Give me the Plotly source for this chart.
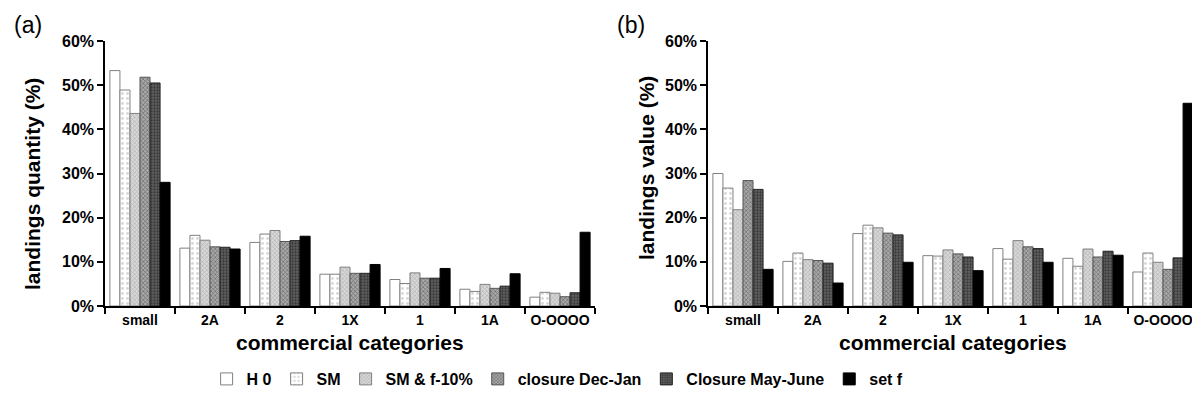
import plotly.graph_objects as go

categories = ["small", "2A", "2", "1X", "1", "1A", "O-OOOO"]
series_names = ["H 0", "SM", "SM & f-10%", "closure Dec-Jan", "Closure May-June", "set f"]

# (a) landings quantity (%)
qty_H0 = [53.3, 13.1, 14.4, 7.2, 6.0, 3.8, 2.0]
qty_SM = [48.9, 16.0, 16.3, 7.2, 5.1, 3.3, 3.1]
qty_SMf = [43.6, 14.9, 17.1, 8.8, 7.5, 4.9, 2.9]
qty_DecJan = [51.8, 13.4, 14.6, 7.4, 6.3, 4.0, 2.1]
qty_MayJune = [50.5, 13.3, 14.8, 7.4, 6.3, 4.5, 3.0]
qty_setf = [28.0, 12.9, 15.8, 9.4, 8.5, 7.3, 16.7]

# (b) landings value (%)
val_H0 = [30.0, 10.1, 16.4, 11.4, 13.0, 10.8, 7.7]
val_SM = [26.7, 12.0, 18.3, 11.3, 10.6, 9.0, 12.0]
val_SMf = [21.8, 10.5, 17.7, 12.7, 14.8, 12.9, 9.9]
val_DecJan = [28.4, 10.3, 16.5, 11.8, 13.4, 11.1, 8.3]
val_MayJune = [26.4, 9.7, 16.1, 11.1, 13.0, 12.4, 10.9]
val_setf = [8.3, 5.2, 9.9, 8.0, 9.9, 11.5, 45.9]

y_ticks = [0, 10, 20, 30, 40, 50, 60]
y_tick_labels = ["0%", "10%", "20%", "30%", "40%", "50%", "60%"]

qty = [qty_H0, qty_SM, qty_SMf, qty_DecJan, qty_MayJune, qty_setf]
val = [val_H0, val_SM, val_SMf, val_DecJan, val_MayJune, val_setf]

styles = [
    dict(color="white", line=dict(color="#808080", width=1)),
    dict(color="white", line=dict(color="#808080", width=1),
         pattern=dict(shape=".", fgcolor="#b0b0b0", bgcolor="white", size=5, solidity=0.25)),
    dict(color="#cfcfcf", line=dict(color="#808080", width=1),
         pattern=dict(shape="x", fgcolor="#8c8c8c", bgcolor="#d8d8d8", size=3, solidity=0.4)),
    dict(color="#8a8a8a", line=dict(color="#555555", width=1),
         pattern=dict(shape="x", fgcolor="#3a3a3a", bgcolor="#a8a8a8", size=3, solidity=0.45)),
    dict(color="#444444", line=dict(color="#222222", width=1),
         pattern=dict(shape=".", fgcolor="#111111", bgcolor="#606060", size=3, solidity=0.45)),
    dict(color="black", line=dict(color="black", width=1)),
]

FONT = "Arial, Liberation Sans, sans-serif"

fig = go.Figure()
for i, name in enumerate(series_names):
    fig.add_trace(go.Bar(x=categories, y=qty[i], name=name, marker=styles[i],
                         xaxis="x", yaxis="y", showlegend=True, legendgroup=name))
    fig.add_trace(go.Bar(x=categories, y=val[i], name=name, marker=styles[i],
                         xaxis="x2", yaxis="y2", showlegend=False, legendgroup=name))

W, H = 1200, 405
def px_x(p):
    return p / W
def px_y(p):
    return 1 - p / H

axis_common = dict(showline=True, linecolor="black", linewidth=1.5, showgrid=False,
                   zeroline=False, ticks="outside", ticklen=6, tickcolor="black",
                   tickwidth=1.5, automargin=False, tickangle=0)
tickfont_y = dict(family=FONT, size=16, color="black", weight="bold")
tickfont_x = dict(family=FONT, size=14, color="black", weight="bold")

fig.update_layout(
    width=W, height=H,
    margin=dict(l=0, r=0, t=0, b=0),
    paper_bgcolor="white", plot_bgcolor="white",
    barmode="group", bargap=0.14, bargroupgap=0,
    font=dict(family=FONT, color="black"),
    xaxis=dict(domain=[px_x(97), px_x(587)], anchor="y", tickson="boundaries",
               range=[-0.5, 6.5], tickfont=tickfont_x, **axis_common),
    yaxis=dict(domain=[px_y(298), px_y(33)], anchor="x", range=[0, 60],
               tickvals=y_ticks, ticktext=y_tick_labels, tickfont=tickfont_y, **axis_common),
    xaxis2=dict(domain=[px_x(700), px_x(1190)], anchor="y2", tickson="boundaries",
                range=[-0.5, 6.5], tickfont=tickfont_x, **axis_common),
    yaxis2=dict(domain=[px_y(298), px_y(33)], anchor="x2", range=[0, 60],
                tickvals=y_ticks, ticktext=y_tick_labels, tickfont=tickfont_y, **axis_common),
    legend=dict(orientation="h", x=0.458, xanchor="center", y=px_y(371), yanchor="middle",
                font=dict(family=FONT, size=16, color="black", weight="bold"),
                itemwidth=30, traceorder="normal", bgcolor="rgba(0,0,0,0)"),
)

title_font = dict(family=FONT, size=21, color="black", weight="bold")
annotations = [
    dict(text="(a)", x=px_x(20), y=px_y(17), font=dict(family=FONT, size=23, color="black")),
    dict(text="(b)", x=px_x(623), y=px_y(17), font=dict(family=FONT, size=23, color="black")),
    dict(text="landings quantity (%)", x=px_x(24), y=px_y(176), textangle=-90, font=title_font),
    dict(text="landings value (%)", x=px_x(638), y=px_y(160), textangle=-90, font=title_font),
    dict(text="commercial categories", x=px_x(342), y=px_y(334), font=title_font),
    dict(text="commercial categories", x=px_x(945), y=px_y(334), font=title_font),
]
for a in annotations:
    a.update(xref="paper", yref="paper", showarrow=False, xanchor="center", yanchor="middle")
fig.update_layout(annotations=annotations)

fig.write_html("out.html")
